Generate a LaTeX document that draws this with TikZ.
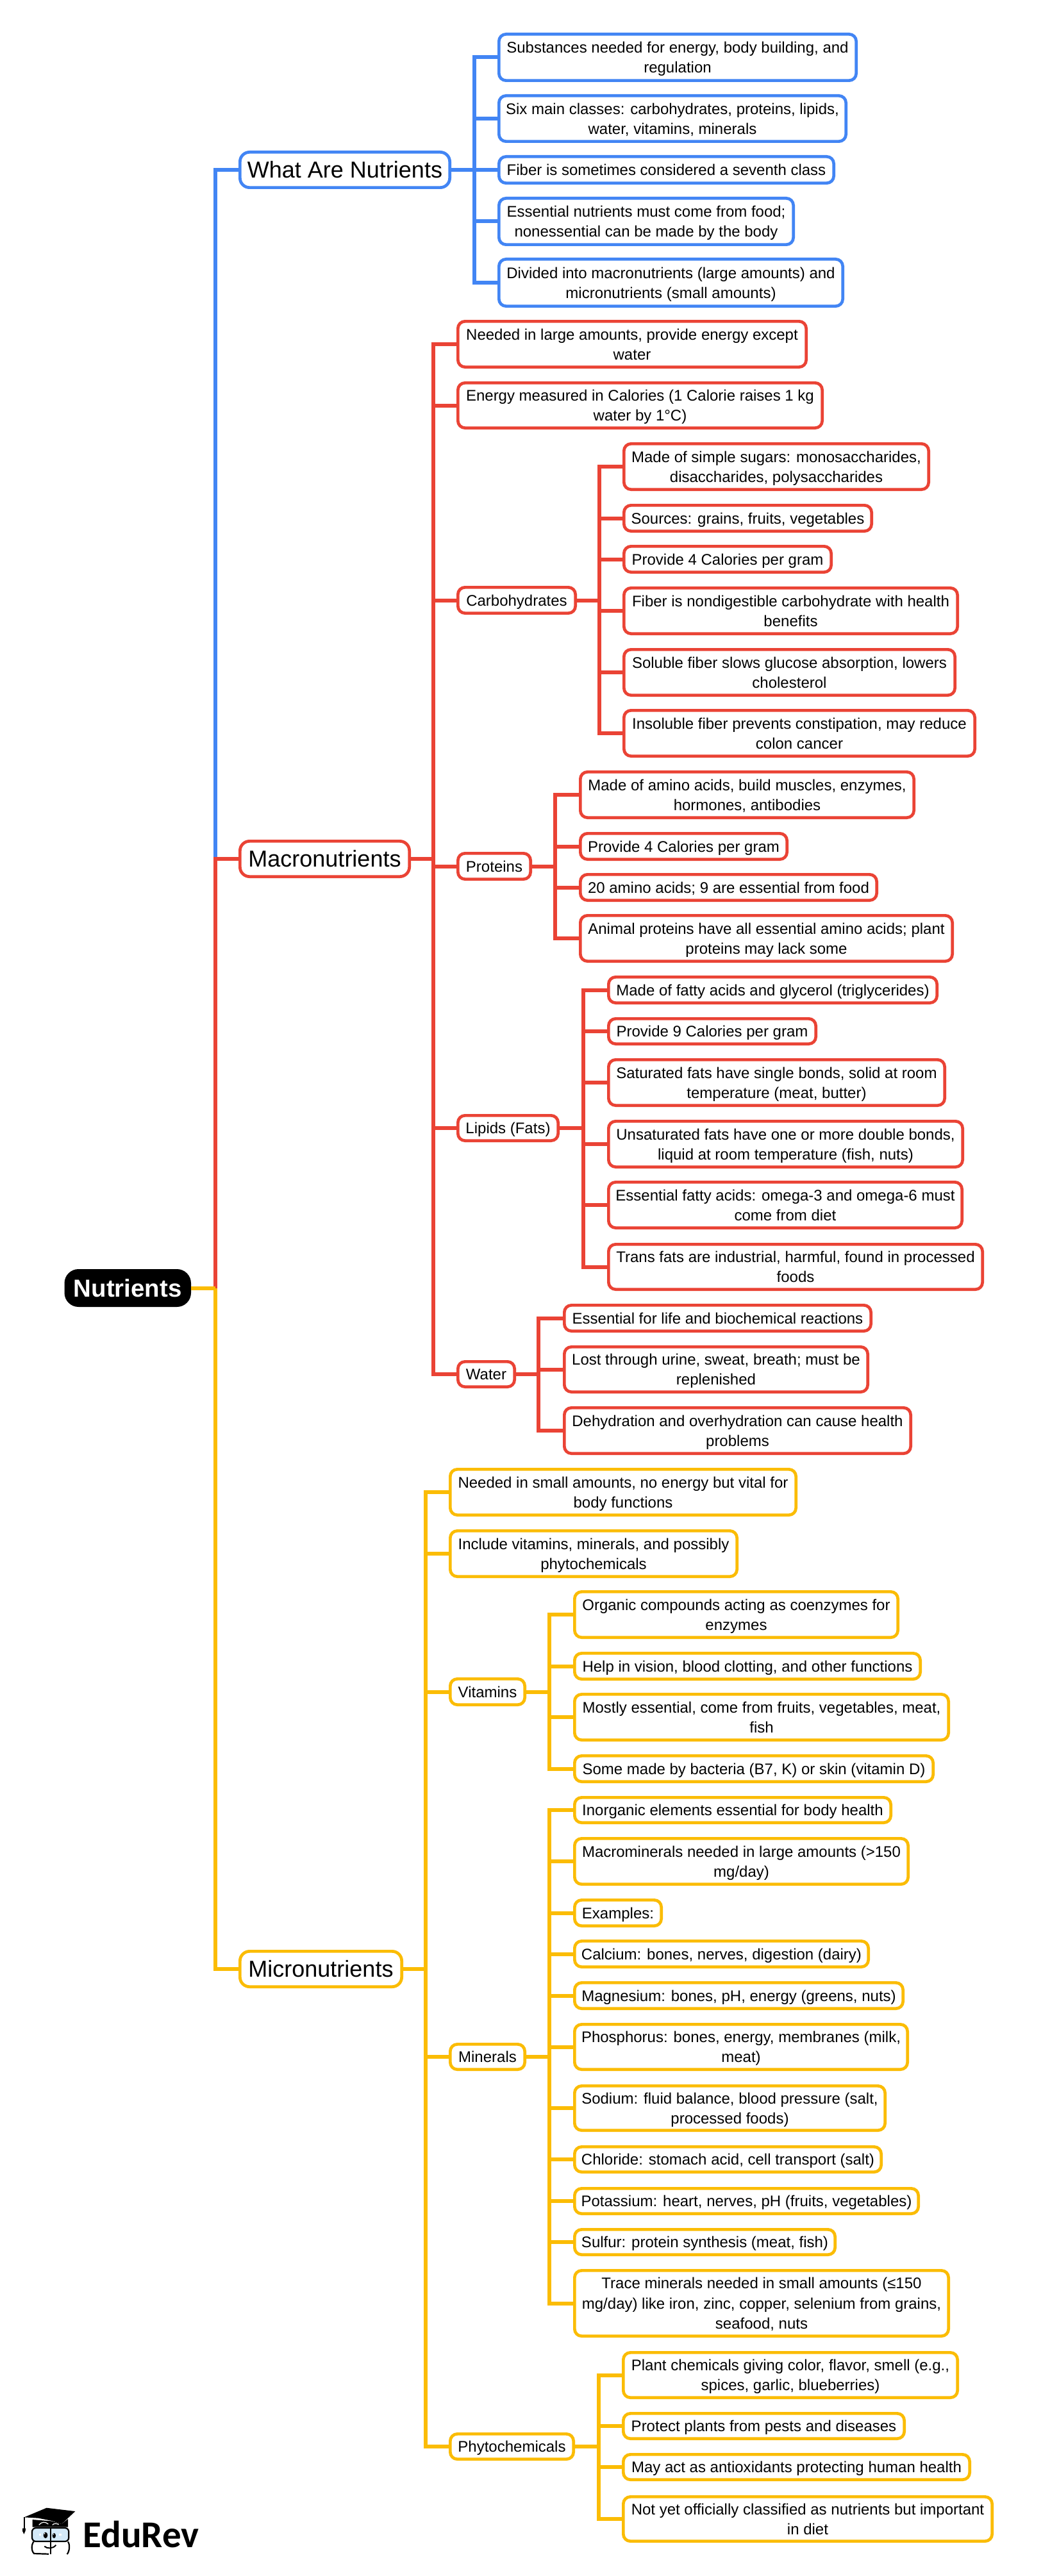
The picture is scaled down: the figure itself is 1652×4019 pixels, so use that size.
\documentclass[tikz,border=0pt]{standalone}
\usepackage{fontspec}
\setmainfont{Liberation Sans}
\newfontfamily\logofont{Carlito}
\AtBeginDocument{\lineskiplimit=-100pt\relax}
\definecolor{bl}{HTML}{4285F4}
\definecolor{rd}{HTML}{EA4335}
\definecolor{yl}{HTML}{FBBC04}
\definecolor{glass}{HTML}{D3E9F8}
\newcommand{\vst}{\vrule width 0pt height 1.02em depth .3em\relax}
\tikzset{
  cb/.style={draw=#1,fill=white,line width=2.35pt,rounded corners=5.5pt,align=center,inner sep=0pt,
    font=\fontsize{12}{15.6}\selectfont},
  tb/.style={cb=#1,rounded corners=7.5pt,font=\fontsize{18}{22}\selectfont},
  rootbox/.style={fill=black,text=white,rounded corners=11pt,inner sep=0pt,
    font=\fontsize{19.2}{23}\selectfont\bfseries},
  ln/.style={draw=#1,line width=3pt,line cap=butt,line join=miter},
  lg/.style={line width=.85pt,draw=black}
}
% style, name, x1, x2, y1, y2, text (outer pixel edges)
\newcommand{\bx}[7]{%
  \pgfmathsetmacro\bxw{(#4-#3-4.7)*0.5}%
  \pgfmathsetmacro\bxh{(#6-#5-4.7)*0.5}%
  \pgfmathsetmacro\bxc{(#3+#4)/2}%
  \pgfmathsetmacro\bxm{(#5+#6)/2}%
  \node[#1,minimum width=\bxw pt,minimum height=\bxh pt] (#2) at (\bxc,\bxm) {\vst #7\vst};%
}
% parent, x, colour : hub on the trunk at the height of the parent
\newcommand{\hub}[3]{%
  \coordinate (#1-a) at (#2,0);%
  \coordinate (#1-t) at (#1-a |- #1.east);%
  \draw[ln=#3] (#1.east) -- (#1-t);%
}
\begin{document}
\begin{tikzpicture}[x=0.5pt,y=-0.5pt]
\useasboundingbox (0,0) rectangle (1652,4019);
\fill[white] (0,0) rectangle (1652,4019);

% root
\node[rootbox,minimum width=98.75pt,minimum height=29.5pt] (root) at (199.25,2009.5) {\vst Nutrients\vst};
\coordinate (root-a) at (336,0);
\coordinate (root-t) at (root-a |- root.east);

% What Are Nutrients
\bx{tb=bl}{what}{372}{704}{235}{295}{What Are Nutrients}
\bx{cb=bl}{w1}{776}{1338}{51}{128}{Substances needed for energy, body building, and\\regulation}
\bx{cb=bl}{w2}{776}{1322}{147}{223}{Six main classes: carbohydrates, proteins, lipids,\\water, vitamins, minerals}
\bx{cb=bl}{w3}{776}{1303}{242}{288}{Fiber is sometimes considered a seventh class}
\bx{cb=bl}{w4}{776}{1240}{307}{384}{Essential nutrients must come from food;\\nonessential can be made by the body}
\bx{cb=bl}{w5}{776}{1317}{402}{480}{Divided into macronutrients (large amounts) and\\micronutrients (small amounts)}

% Macronutrients
\bx{tb=rd}{macro}{372}{641}{1310}{1370}{Macronutrients}
\bx{cb=rd}{m1}{712}{1260}{499}{575}{Needed in large amounts, provide energy except\\water}
\bx{cb=rd}{m2}{712}{1285}{595}{670}{Energy measured in Calories (1 Calorie raises 1 kg\\water by 1°C)}
\bx{cb=rd}{carb}{712}{900}{914}{959}{Carbohydrates}
\bx{cb=rd}{c1}{971}{1451}{690}{766}{Made of simple sugars: monosaccharides,\\disaccharides, polysaccharides}
\bx{cb=rd}{c2}{971}{1362}{786}{831}{Sources: grains, fruits, vegetables}
\bx{cb=rd}{c3}{971}{1299}{850}{895}{Provide 4 Calories per gram}
\bx{cb=rd}{c4}{971}{1496}{915}{991}{Fiber is nondigestible carbohydrate with health\\benefits}
\bx{cb=rd}{c5}{971}{1492}{1011}{1087}{Soluble fiber slows glucose absorption, lowers\\cholesterol}
\bx{cb=rd}{c6}{971}{1523}{1106}{1182}{Insoluble fiber prevents constipation, may reduce\\colon cancer}
\bx{cb=rd}{prot}{712}{830}{1329}{1374}{Proteins}
\bx{cb=rd}{p1}{903}{1428}{1202}{1278}{Made of amino acids, build muscles, enzymes,\\hormones, antibodies}
\bx{cb=rd}{p2}{903}{1230}{1298}{1343}{Provide 4 Calories per gram}
\bx{cb=rd}{p3}{903}{1370}{1362}{1407}{20 amino acids; 9 are essential from food}
\bx{cb=rd}{p4}{903}{1488}{1426}{1502}{Animal proteins have all essential amino acids; plant\\proteins may lack some}
\bx{cb=rd}{lip}{712}{873}{1738}{1782}{Lipids (Fats)}
\bx{cb=rd}{l1}{947}{1464}{1522}{1567}{Made of fatty acids and glycerol (triglycerides)}
\bx{cb=rd}{l2}{947}{1275}{1587}{1631}{Provide 9 Calories per gram}
\bx{cb=rd}{l3}{947}{1476}{1651}{1727}{Saturated fats have single bonds, solid at room\\temperature (meat, butter)}
\bx{cb=rd}{l4}{947}{1504}{1747}{1823}{Unsaturated fats have one or more double bonds,\\liquid at room temperature (fish, nuts)}
\bx{cb=rd}{l5}{947}{1503}{1842}{1918}{Essential fatty acids: omega-3 and omega-6 must\\come from diet}
\bx{cb=rd}{l6}{947}{1535}{1939}{2014}{Trans fats are industrial, harmful, found in processed\\foods}
\bx{cb=rd}{wat}{712}{805}{2122}{2166}{Water}
\bx{cb=rd}{a1}{878}{1361}{2034}{2079}{Essential for life and biochemical reactions}
\bx{cb=rd}{a2}{878}{1356}{2099}{2174}{Lost through urine, sweat, breath; must be\\replenished}
\bx{cb=rd}{a3}{878}{1423}{2194}{2270}{Dehydration and overhydration can cause health\\problems}

% Micronutrients
\bx{tb=yl}{micro}{372}{629}{3042}{3102}{Micronutrients}
\bx{cb=yl}{n1}{700}{1244}{2290}{2366}{Needed in small amounts, no energy but vital for\\body functions}
\bx{cb=yl}{n2}{700}{1152}{2386}{2462}{Include vitamins, minerals, and possibly\\phytochemicals}
\bx{cb=yl}{vit}{700}{821}{2617}{2662}{Vitamins}
\bx{cb=yl}{v1}{894}{1403}{2481}{2557}{Organic compounds acting as coenzymes for\\enzymes}
\bx{cb=yl}{v2}{894}{1438}{2577}{2622}{Help in vision, blood clotting, and other functions}
\bx{cb=yl}{v3}{894}{1482}{2641}{2717}{Mostly essential, come from fruits, vegetables, meat,\\fish}
\bx{cb=yl}{v4}{894}{1458}{2737}{2782}{Some made by bacteria (B7, K) or skin (vitamin D)}
\bx{cb=yl}{mins}{700}{821}{3187}{3231}{Minerals}
\bx{cb=yl}{i1}{894}{1392}{2802}{2846}{Inorganic elements essential for body health}
\bx{cb=yl}{i2}{894}{1419}{2866}{2942}{Macrominerals needed in large amounts (>150\\mg/day)}
\bx{cb=yl}{i3}{894}{1034}{2962}{3007}{Examples:}
\bx{cb=yl}{i4}{894}{1357}{3026}{3071}{Calcium: bones, nerves, digestion (dairy)}
\bx{cb=yl}{i5}{894}{1411}{3091}{3136}{Magnesium: bones, pH, energy (greens, nuts)}
\bx{cb=yl}{i6}{894}{1418}{3156}{3231}{Phosphorus: bones, energy, membranes (milk,\\meat)}
\bx{cb=yl}{i7}{894}{1383}{3252}{3326}{Sodium: fluid balance, blood pressure (salt,\\processed foods)}
\bx{cb=yl}{i8}{894}{1377}{3347}{3391}{Chloride: stomach acid, cell transport (salt)}
\bx{cb=yl}{i9}{894}{1435}{3412}{3456}{Potassium: heart, nerves, pH (fruits, vegetables)}
\bx{cb=yl}{i10}{894}{1305}{3476}{3520}{Sulfur: protein synthesis (meat, fish)}
\bx{cb=yl}{i11}{894}{1482}{3540}{3647}{Trace minerals needed in small amounts (≤150\\mg/day) like iron, zinc, copper, selenium from grains,\\seafood, nuts}
\bx{cb=yl}{phy}{700}{897}{3795}{3839}{Phytochemicals}
\bx{cb=yl}{h1}{970}{1496}{3668}{3743}{Plant chemicals giving color, flavor, smell (e.g.,\\spices, garlic, blueberries)}
\bx{cb=yl}{h2}{970}{1413}{3763}{3807}{Protect plants from pests and diseases}
\bx{cb=yl}{h3}{970}{1515}{3827}{3871}{May act as antioxidants protecting human health}
\bx{cb=yl}{h4}{970}{1550}{3893}{3967}{Not yet officially classified as nutrients but important\\in diet}

% connectors: blue branch
\draw[ln=bl] (root-t) |- (what.west);
\hub{what}{740}{bl}
\foreach \c in {w1,w2,w3,w4,w5} \draw[ln=bl] (what-t) |- (\c.west);

% red branch
\draw[ln=rd] (root-t) |- (macro.west);
\hub{macro}{676}{rd}
\foreach \c in {m1,m2,carb,prot,lip,wat} \draw[ln=rd] (macro-t) |- (\c.west);
\hub{carb}{935}{rd}
\foreach \c in {c1,c2,c3,c4,c5,c6} \draw[ln=rd] (carb-t) |- (\c.west);
\hub{prot}{866}{rd}
\foreach \c in {p1,p2,p3,p4} \draw[ln=rd] (prot-t) |- (\c.west);
\hub{lip}{910}{rd}
\foreach \c in {l1,l2,l3,l4,l5,l6} \draw[ln=rd] (lip-t) |- (\c.west);
\hub{wat}{840}{rd}
\foreach \c in {a1,a2,a3} \draw[ln=rd] (wat-t) |- (\c.west);

% yellow branch
\draw[ln=yl] (root.east) -- (root-t);
\draw[ln=yl] (root-t) |- (micro.west);
\hub{micro}{664}{yl}
\foreach \c in {n1,n2,vit,mins,phy} \draw[ln=yl] (micro-t) |- (\c.west);
\hub{vit}{857}{yl}
\foreach \c in {v1,v2,v3,v4} \draw[ln=yl] (vit-t) |- (\c.west);
\hub{mins}{857}{yl}
\foreach \c in {i1,i2,i3,i4,i5,i6,i7,i8,i9,i10,i11} \draw[ln=yl] (mins-t) |- (\c.west);
\hub{phy}{933.5}{yl}
\foreach \c in {h1,h2,h3,h4} \draw[ln=yl] (phy-t) |- (\c.west);

% logo
\node[anchor=base west,inner sep=0pt,font=\fontsize{29.5}{32}\selectfont\logofont\bfseries] (logo) at (129,3974) {EduRev};
\begin{scope}[shift={(0,3850)},x=0.16667pt,y=-0.16667pt]
  \fill[black] (113,232) -- (218,188) -- (352,204) -- (288,264) -- (240,248) -- (180,236) -- cycle;
  \draw[lg] (113,232) -- (113,285);
  \fill[black] (105,284) -- (120,284) -- (119,296) -- (112,311) -- (105,296) -- cycle;
  \fill[black] (152,243) -- (152,278) -- (318,278) -- (318,240) -- (288,264) -- (240,250) -- cycle;
  \draw[white,line width=.6pt] (182,268) .. controls (195,252) and (212,252) .. (226,264);
  \draw[white,line width=.6pt] (245,268) .. controls (252,260) and (265,260) .. (275,266);
  \draw[lg,line width=1.1pt,fill=glass,rounded corners=3pt] (150,282) rectangle (322,345);
  \draw[lg,line width=1.1pt] (158,346) .. controls (146,358) and (146,392) .. (160,402) -- (228,404);
  \draw[lg,line width=1.1pt] (318,346) .. controls (328,360) and (326,390) .. (314,405);
  \draw[lg,line width=1.1pt] (236,278) -- (236,406);
  \fill[black] (213,316) ellipse [x radius=10,y radius=14];
  \fill[black] (253,318) ellipse [x radius=8,y radius=12];
  \fill[white] (209,309) circle [radius=3];
  \fill[white] (250,312) circle [radius=2.5];
  \fill[white] (182,308) rectangle (193,318);
  \fill[white] (277,308) rectangle (288,318);
  \draw[lg,line width=1pt] (208,368) .. controls (220,380) and (248,380) .. (262,362);
\end{scope}
\end{tikzpicture}
\end{document}
